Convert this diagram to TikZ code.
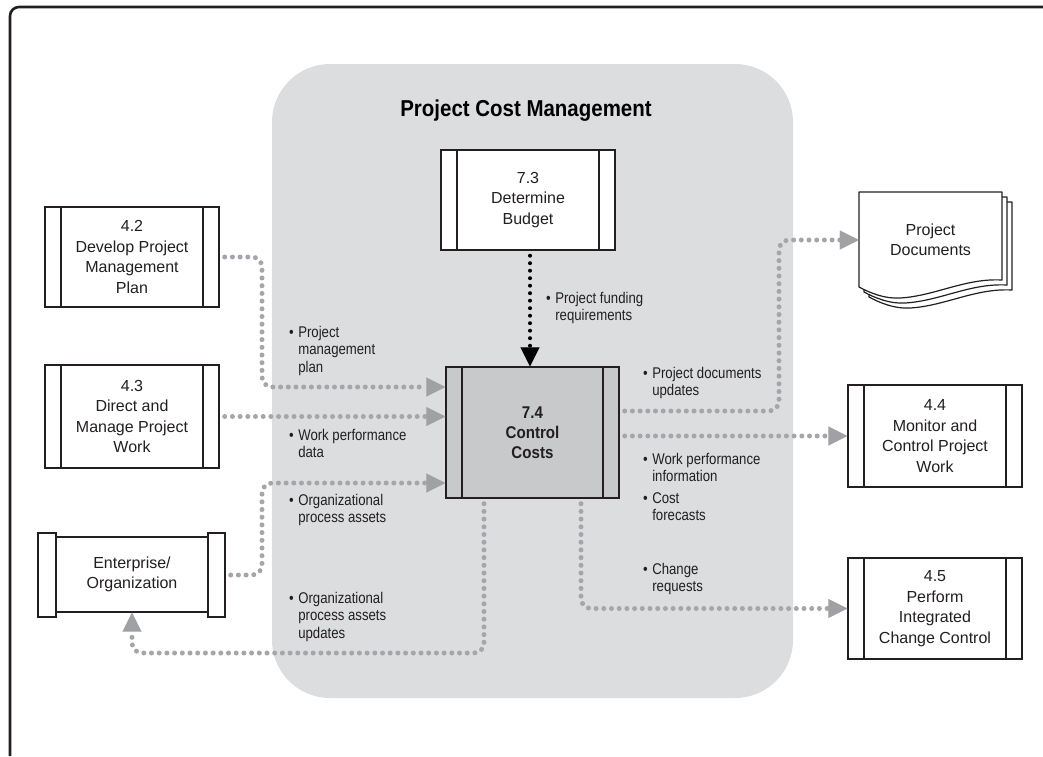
\documentclass[tikz,border=0pt]{standalone}
\usepackage{fontspec}
\setmainfont{Liberation Sans}
\newfontfamily\lblfont[FakeStretch=0.85]{Liberation Sans}
\newfontfamily\ttlfont[FakeStretch=0.89]{Liberation Sans}
\usetikzlibrary{arrows.meta}
\definecolor{regionc}{HTML}{DCDDDF}
\definecolor{costc}{HTML}{C8C9CB}
\definecolor{dotc}{HTML}{A5A6A9}
\definecolor{tipc}{HTML}{A0A1A4}
\definecolor{inkc}{HTML}{231F20}
\newcommand\bulind{\hphantom{\textbullet\hspace{4.5pt}}}
\newcommand\bul{\textbullet\hspace{4.5pt}}
\tikzset{
  procbox/.style={draw=inkc, line width=1.4pt, fill=white, minimum width=174pt,
    minimum height=101pt, inner sep=0pt, align=center, text=inkc,
    font=\fontsize{16}{20.5}\selectfont,
    path picture={\draw[inkc, line width=1.4pt]
      ([xshift=16pt]path picture bounding box.north west) -- ([xshift=16pt]path picture bounding box.south west)
      ([xshift=-16pt]path picture bounding box.north east) -- ([xshift=-16pt]path picture bounding box.south east);}},
  bandbox/.style={draw=inkc, line width=1.4pt, fill=white, inner sep=0pt, minimum height=84pt},
  lbl/.style={anchor=north west, inner sep=0pt, align=left, text=inkc,
    font=\lblfont\fontsize{15.5}{17.5}\selectfont},
  flow/.style={draw=dotc, line width=5pt, line cap=round, dash pattern=on 0pt off 7.7pt,
    rounded corners=10pt, shorten <=5pt,
    -{Triangle[length=19pt, width=19pt, line width=0.01pt, color=tipc]}},
  blkflow/.style={draw=black, line width=4pt, line cap=round, dash pattern=on 0pt off 7.5pt,
    shorten <=5pt,
    -{Triangle[length=19pt, width=19pt, line width=0.01pt, color=black]}},
  sheet/.style={draw=inkc, line width=1.2pt, fill=white, line join=round},
}
\begin{document}
\begin{tikzpicture}[x=1pt, y=-1pt]
\path[use as bounding box] (0,0) rectangle (1043,756);
% outer frame (top and left edges)
\draw[inkc, line width=2.6pt, rounded corners=9pt] (10,756) -- (10,7) -- (1043,7);
% process group region
\node[fill=regionc, rounded corners=58pt, minimum width=521pt, minimum height=634pt, inner sep=0pt] (region) at (532.5,381) {};
\node[font=\ttlfont\bfseries\fontsize{23}{27}\selectfont, text=black] (title) at (526,111) {Project Cost Management};

% process boxes
\node[procbox, minimum height=100pt] (p73) at (528,200) {7.3\\Determine\\Budget};
\node[procbox, minimum width=173pt, minimum height=131pt, fill=costc,
      font=\ttlfont\bfseries\fontsize{17}{20}\selectfont] (c74) at (532.5,432.5) {7.4\\Control\\Costs};
\node[procbox, minimum height=100pt] (p42) at (132,257) {4.2\\Develop Project\\Management\\Plan};
\node[procbox, minimum height=103pt] (p43) at (132,416.5) {4.3\\Direct and\\Manage Project\\Work};
\node[procbox, minimum height=102pt] (p44) at (935,436) {4.4\\Monitor and\\Control Project\\Work};
\node[procbox, minimum height=101pt] (p45) at (935,608.5) {4.5\\Perform\\Integrated\\Change Control};

% enterprise / organization
\node[draw=inkc, line width=1.4pt, fill=white, minimum width=152pt, minimum height=75pt,
      inner sep=0pt, align=center, text=inkc, font=\fontsize{16}{19.5}\selectfont] (ent) at (132,574.5) {Enterprise/\\Organization};
\node[bandbox, minimum width=18pt] (entL) at (47,575) {};
\node[bandbox, minimum width=17pt] (entR) at (216.5,575) {};

% project documents (stacked sheets)
\draw[sheet] (869,202) -- (1012,202) -- (1012,290) .. controls (975,288) and (945,306) .. (910,308)
   .. controls (895,309) and (880,303) .. (869,297) -- cycle;
\draw[sheet] (864,197) -- (1007,197) -- (1007,285) .. controls (970,283) and (940,301) .. (905,303)
   .. controls (890,304) and (875,298) .. (864,292) -- cycle;
\draw[sheet] (859,192) -- (1002,192) -- (1002,280) .. controls (965,278) and (935,296) .. (900,298)
   .. controls (885,299) and (870,293) .. (859,287) -- cycle;
\node[minimum width=143pt, minimum height=95pt, inner sep=0pt, align=center, text=inkc,
      font=\fontsize{16}{19.5}\selectfont] (docs) at (930.5,240) {Project\\Documents};

% connectors
\draw[blkflow] (p73.south -| 530,0) -- (c74.north -| 530,0);
\draw[flow] (p42.east) -- (262,257) -- (262,387) -- (c74.west |- 0,387);
\draw[flow] (p43.east) -- (c74.west |- p43.east);
\draw[flow] (entR.east) -- (262,575) -- (262,483) -- (c74.west |- 0,483);
\draw[flow] (c74.south -| 484,0) -- (484,653) -- (132,653) -- (ent.south);
\draw[flow] (c74.east |- 0,411) -- (779,411) -- (779,240) -- (docs.west);
\draw[flow] (c74.east |- p44.west) -- (p44.west);
\draw[flow] (c74.south -| 581,0) -- (581,608.5) -- (p45.west);

% labels
\node[lbl] (lfund) at (546,292) {\bul Project funding\\\bulind requirements};
\node[lbl] (lpmp) at (289,326) {\bul Project\\\bulind management\\\bulind plan};
\node[lbl] (lwpd) at (289,429) {\bul Work performance\\\bulind data};
\node[lbl] (lopa) at (289,494) {\bul Organizational\\\bulind process assets};
\node[lbl] (lopau) at (289,592) {\bul Organizational\\\bulind process assets\\\bulind updates};
\node[lbl] (lpdu) at (643,367) {\bul Project documents\\\bulind updates};
\node[lbl] (lwpi) at (643,453) {\bul Work performance\\\bulind information};
\node[lbl] (lcost) at (643,492) {\bul Cost\\\bulind forecasts};
\node[lbl] (lchg) at (643,563) {\bul Change\\\bulind requests};
\end{tikzpicture}
\end{document}
